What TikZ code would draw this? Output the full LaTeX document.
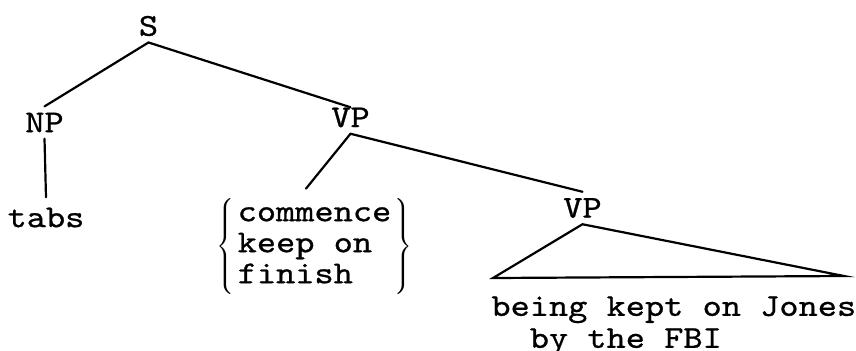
\documentclass[tikz,border=0pt]{standalone}
\usepackage{fontspec}
\usepackage{tikz}
\usetikzlibrary{positioning,calc}
\newfontfamily\typewriter{lmmono10-regular.otf}[FakeStretch=1.15,FakeBold=0.8]
\DeclareMathSizes{15.9}{10}{7}{5}
\tikzset{
        % Category labels
        node_cat/.style={inner sep=3pt, font=\typewriter\fontsize{15.9}{15.5pt}\selectfont},
        % Terminal strings
        node_words/.style={node_cat, inner sep=0pt, align=left},
        % Branches
        edge_branch/.style={line width=1.1pt, line cap=round}
}

\begin{document}
\begin{tikzpicture}[x=0.5pt, y=-0.5pt]
    \useasboundingbox (0,0) rectangle (856,350);
    \node[node_cat] (s) at (148.5,26) {S};
    \node[node_cat] (np) at (44.5,122.5) {NP};
    \node[node_cat] (vp) at (350.5,117.5) {VP};
    \node[node_cat] (tabs) at (46,217.5) {tabs};
    \node[node_words] (verbs) at (314.5,246)
        {$\left\{\vcenter{\hbox{\rule{0pt}{51pt}}}\,\begin{tabular}{@{}l@{}}commence\\keep on\\finish\end{tabular}\,\right\}$};
    \node[node_cat] (vp_low) at (582.5,208) {VP};
    \node[node_words, anchor=north west] (phrase) at (491,296)
        {being kept on Jones\\[0.5pt]\hphantom{bb}by the FBI};
    \coordinate (base_left) at (493,278);
    \coordinate (base_right) at (844,276);

    \draw[edge_branch] (s.south) -- (np.north);
    \draw[edge_branch] (s.south) -- ([yshift=-3pt]vp.north);
    \draw[edge_branch] (np.south) -- ([yshift=2pt]tabs.north);
    \draw[edge_branch] (vp.south) -- ([xshift=-4.25pt,yshift=3pt]verbs.north);
    \draw[edge_branch] (vp.south) -- (vp_low.north);
    \draw[edge_branch] (base_left) -- (vp_low.south) -- (base_right) -- cycle;
\end{tikzpicture}
\end{document}
